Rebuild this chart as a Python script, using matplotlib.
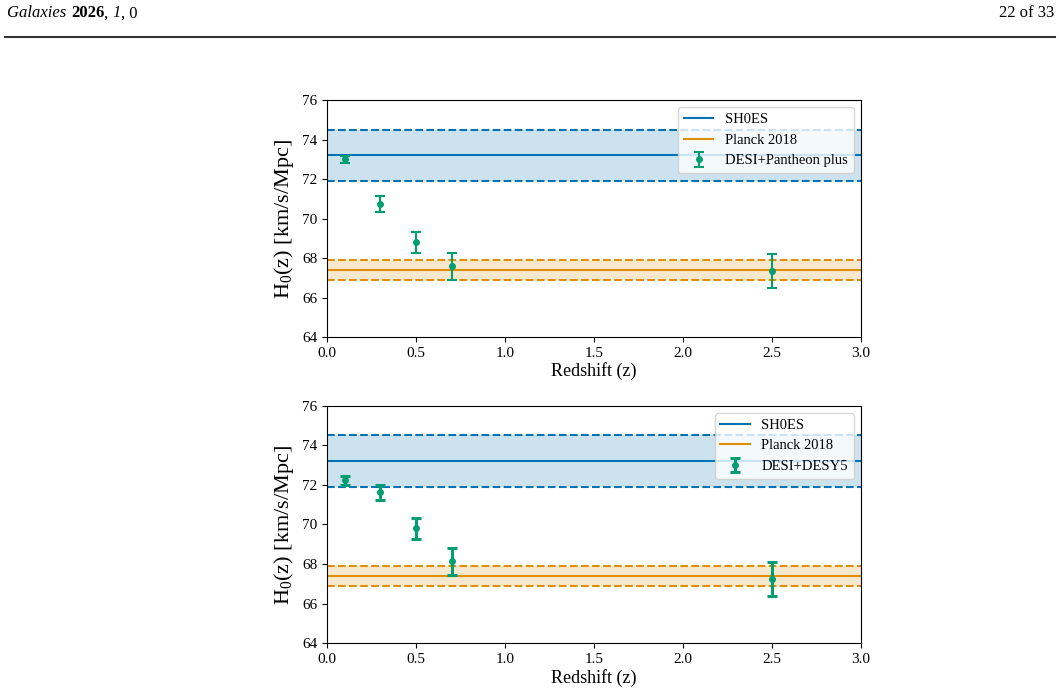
import numpy as np
import matplotlib
matplotlib.use("Agg")
import matplotlib.pyplot as plt

plt.rcParams['font.family'] = ['Liberation Serif', 'DejaVu Serif']
plt.rcParams['mathtext.fontset'] = 'custom'
plt.rcParams['mathtext.rm'] = 'Liberation Serif'
plt.rcParams['mathtext.it'] = 'Liberation Serif:italic'

# data
z = [0.1, 0.3, 0.5, 0.7, 2.5]
h0_pantheon = [73.0, 70.73, 68.79, 67.58, 67.34]
err_pantheon = [0.17, 0.41, 0.54, 0.67, 0.85]
h0_desy5 = [72.22, 71.63, 69.81, 68.14, 67.25]
err_desy5 = [0.22, 0.37, 0.53, 0.68, 0.84]

sh0es, sh0es_err = 73.2, 1.3
planck, planck_err = 67.4, 0.5

c_blue = '#0173b2'
c_orange = '#de8f05'
c_green = '#029e73'

fig = plt.figure(figsize=(10.6, 6.94), dpi=100)

# page header, pieces placed one after another
r = fig.canvas.get_renderer()
x = 0.007
for s, st, wt in [('Galaxies ', 'italic', 'normal'), ('2026', 'normal', 'bold'),
                  (', ', 'normal', 'normal'), ('1', 'italic', 'normal'),
                  (', 0', 'normal', 'normal')]:
    t = fig.text(x, 0.981, s, fontsize=12, style=st, weight=wt, va='center', ha='left')
    bb = t.get_window_extent(r)
    x += bb.width / fig.bbox.width
fig.text(0.995, 0.981, '22 of 33', fontsize=12, va='center', ha='right')
fig.add_artist(plt.Line2D([0.005, 0.995], [0.947, 0.947], color='#333333', lw=1.5))

def panel(ax, h0, err, label, thick):
    ax.axhspan(sh0es - sh0es_err, sh0es + sh0es_err, color=c_blue, alpha=0.2, lw=0)
    ax.axhline(sh0es, color=c_blue, lw=1.5, label='SH0ES')
    ax.axhline(sh0es - sh0es_err, color=c_blue, lw=1.5, ls='--')
    ax.axhline(sh0es + sh0es_err, color=c_blue, lw=1.5, ls='--')
    ax.axhspan(planck - planck_err, planck + planck_err, color=c_orange, alpha=0.2, lw=0)
    ax.axhline(planck, color=c_orange, lw=1.5, label='Planck 2018')
    ax.axhline(planck - planck_err, color=c_orange, lw=1.5, ls='--')
    ax.axhline(planck + planck_err, color=c_orange, lw=1.5, ls='--')
    lw = 2.2 if thick else 1.5
    ax.errorbar(z, h0, yerr=err, fmt='o', color=c_green, ms=4, capsize=3.5,
                elinewidth=lw, capthick=lw, label=label)
    ax.set_xlim(0, 3)
    ax.set_ylim(64, 76)
    ax.set_xticks(np.arange(0, 3.01, 0.5))
    ax.set_yticks(np.arange(64, 76.1, 2))
    ax.tick_params(labelsize=11)
    ax.set_xlabel('Redshift (z)', fontsize=13, labelpad=2)
    ax.set_ylabel(r'H$_0$(z) [km/s/Mpc]', fontsize=16)
    ax.legend(loc='upper right', fontsize=10.5)

ax1 = fig.add_axes([0.3085, 0.5144, 0.5038, 0.3415])
panel(ax1, h0_pantheon, err_pantheon, 'DESI+Pantheon plus', False)
ax2 = fig.add_axes([0.3085, 0.0731, 0.5038, 0.3424])
panel(ax2, h0_desy5, err_desy5, 'DESI+DESY5', True)

fig.savefig('out.png', dpi=100)
